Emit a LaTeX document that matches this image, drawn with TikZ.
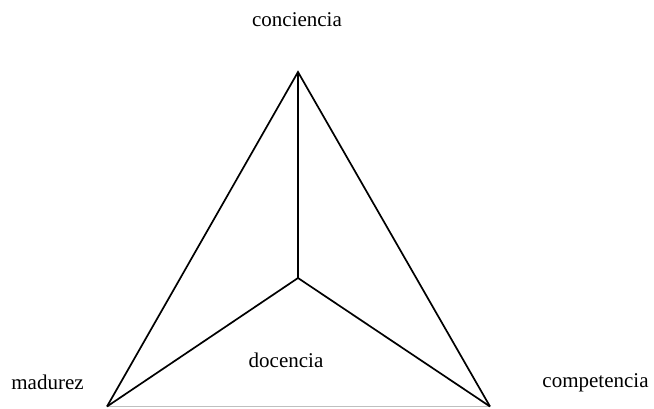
\documentclass[tikz,border=0pt]{standalone}
\usepackage{fontspec}
\setmainfont{Liberation Serif}

\begin{document}
\begin{tikzpicture}[x=1pt,y=-1pt,line join=miter]
  \useasboundingbox (0,0) rectangle (654,408);
  % corners of the pyramid
  \coordinate (top) at (298,72);
  \coordinate (mid) at (298,278);
  \coordinate (left) at (107,406.5);
  \coordinate (right) at (490,406.5);
  % labels
  \node[font=\fontsize{21}{25}\selectfont] (conc) at (297,20) {conciencia};
  \node[font=\fontsize{21}{25}\selectfont] (mad) at (47.5,382) {madurez};
  \node[font=\fontsize{21}{25}\selectfont] (comp) at (595.5,383) {competencia};
  \node[font=\fontsize{21}{25}\selectfont] (doc) at (286,360) {docencia};
  % base, light
  \draw[gray!50,line width=1.2pt] (left) -- (right);
  % edges
  \draw[line width=1.7pt] (left) -- (top) -- (right);
  \draw[line width=1.7pt] (top) -- (mid);
  \draw[line width=1.7pt] (left) -- (mid) -- (right);
\end{tikzpicture}
\end{document}
